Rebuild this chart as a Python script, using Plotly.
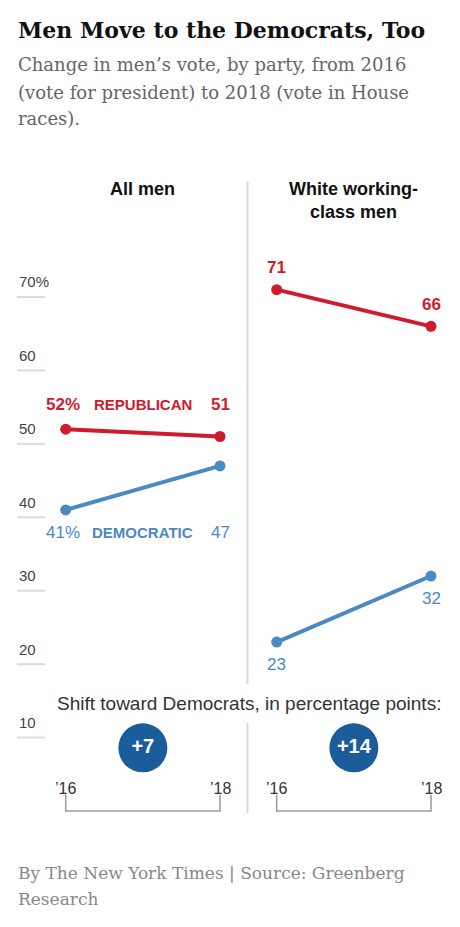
import plotly.graph_objects as go

# ---- data ----
years = [2016, 2018]
year_labels = ["’16", "’18"]
panels = ["All men", "White working-<br>class men"]
rep_all = [52, 51]
dem_all = [41, 47]
rep_wwc = [71, 66]
dem_wwc = [23, 32]
y_ticks = [70, 60, 50, 40, 30, 20, 10]
y_tick_labels = ["70%", "60", "50", "40", "30", "20", "10"]

RED = "#cf1b2e"
BLUE = "#4a89c2"
DARK_BLUE = "#1b5d9b"
OFF = 8  # default page body margin
W, H = 460 - 2 * OFF, 927 - 2 * OFF
SANS = "Liberation Sans, Arial, sans-serif"
SERIF = "DejaVu Serif, Georgia, serif"


def px_x(p):
    return (p - OFF) / W


def px_y(p):
    return 1 - (p - OFF) / H


fig = go.Figure()

axes = [("x", rep_all, dem_all), ("x2", rep_wwc, dem_wwc)]
for xa, rep, dem in axes:
    fig.add_trace(go.Scatter(x=years, y=rep, xaxis=xa, yaxis="y", mode="lines+markers",
                             line=dict(color=RED, width=4), marker=dict(size=11, color=RED),
                             hoverinfo="skip", showlegend=False))
    fig.add_trace(go.Scatter(x=years, y=dem, xaxis=xa, yaxis="y", mode="lines+markers",
                             line=dict(color=BLUE, width=4), marker=dict(size=11, color=BLUE),
                             hoverinfo="skip", showlegend=False))
    shift = (dem[1] - rep[1]) - (dem[0] - rep[0])
    fig.add_trace(go.Scatter(x=[(years[0] + years[1]) / 2], y=[8.6], xaxis=xa, yaxis="y",
                             mode="markers+text", text=[f"+{shift}"],
                             textposition="middle center",
                             textfont=dict(family=SANS, size=20, color="white", weight="bold"),
                             marker=dict(size=49, color=DARK_BLUE),
                             hoverinfo="skip", showlegend=False))
    # bracket
    fig.add_shape(type="path", xref=xa, yref="y",
                  path=f"M {years[0]},2.2 L {years[0]},0 L {years[1]},0 L {years[1]},2.2",
                  line=dict(color="#9a9a9a", width=1.5))
    for yr, lab in zip(years, year_labels):
        fig.add_annotation(x=yr, y=0, xref=xa, yref="y", text=lab, showarrow=False,
                           yshift=23, font=dict(family=SANS, size=16, color="#333"))

# y ticks (short lines + labels above)
for v, lab in zip(y_ticks, y_tick_labels):
    fig.add_shape(type="line", xref="paper", yref="y", x0=px_x(17), x1=px_x(45), y0=v, y1=v,
                  line=dict(color="#dcdcdc", width=2))
    fig.add_annotation(x=px_x(17), y=v, xref="paper", yref="y", text=lab, showarrow=False,
                       xanchor="left", yanchor="middle", yshift=15,
                       font=dict(family=SANS, size=15, color="#444"))

# data labels - left panel
fig.add_annotation(x=years[0], y=rep_all[0], xref="x", yref="y", text=f"{rep_all[0]}%",
                   showarrow=False, yshift=25, xshift=-3,
                   font=dict(family=SANS, size=17, color=RED, weight="bold"))
fig.add_annotation(x=(years[0] + years[1]) / 2, y=rep_all[0], xref="x", yref="y", text="REPUBLICAN",
                   showarrow=False, yshift=25,
                   font=dict(family=SANS, size=15, color=RED, weight="bold"))
fig.add_annotation(x=years[1], y=rep_all[0], xref="x", yref="y", text=f"{rep_all[1]}",
                   showarrow=False, yshift=25,
                   font=dict(family=SANS, size=17, color=RED, weight="bold"))
fig.add_annotation(x=years[0], y=dem_all[0], xref="x", yref="y", text=f"{dem_all[0]}%",
                   showarrow=False, yshift=-23, xshift=-3,
                   font=dict(family=SANS, size=17, color=BLUE))
fig.add_annotation(x=(years[0] + years[1]) / 2, y=dem_all[0], xref="x", yref="y", text="DEMOCRATIC",
                   showarrow=False, yshift=-23,
                   font=dict(family=SANS, size=15, color=BLUE, weight="bold"))
fig.add_annotation(x=years[1], y=dem_all[0], xref="x", yref="y", text=f"{dem_all[1]}",
                   showarrow=False, yshift=-23,
                   font=dict(family=SANS, size=17, color=BLUE))

# data labels - right panel
for yr, v in zip(years, rep_wwc):
    fig.add_annotation(x=yr, y=v, xref="x2", yref="y", text=f"{v}", showarrow=False, yshift=22,
                       font=dict(family=SANS, size=17, color=RED, weight="bold"))
for yr, v in zip(years, dem_wwc):
    fig.add_annotation(x=yr, y=v, xref="x2", yref="y", text=f"{v}", showarrow=False, yshift=-22,
                       font=dict(family=SANS, size=17, color=BLUE))

# panel headers
fig.add_annotation(x=(years[0] + years[1]) / 2, y=px_y(189), xref="x", yref="paper", text=panels[0],
                   showarrow=False, yanchor="middle",
                   font=dict(family=SANS, size=18, color="#111", weight="bold"))
fig.add_annotation(x=(years[0] + years[1]) / 2, y=px_y(201), xref="x2", yref="paper", text=panels[1],
                   showarrow=False, yanchor="middle",
                   font=dict(family=SANS, size=18, color="#111", weight="bold"))

# divider
fig.add_shape(type="line", xref="paper", yref="paper", x0=px_x(247.5), x1=px_x(247.5),
              y0=px_y(182), y1=px_y(684), line=dict(color="#d8d8d8", width=2))
fig.add_shape(type="line", xref="paper", yref="paper", x0=px_x(247.5), x1=px_x(247.5),
              y0=px_y(723), y1=px_y(813), line=dict(color="#d8d8d8", width=2))

fig.add_annotation(x=px_x(249), y=px_y(703), xref="paper", yref="paper",
                   text="Shift toward Democrats, in percentage points:", showarrow=False,
                   xanchor="center", yanchor="middle",
                   font=dict(family=SANS, size=19, color="#333"))

# title / subtitle / footer
fig.add_annotation(x=px_x(16), y=px_y(30), xref="paper", yref="paper", xanchor="left",
                   yanchor="middle",
                   text="Men Move to the Democrats, Too", showarrow=False,
                   font=dict(family=SERIF, size=22, color="#111", weight="bold"))
for i, line in enumerate(["Change in men’s vote, by party, from 2016",
                          "(vote for president) to 2018 (vote in House",
                          "races)."]):
    fig.add_annotation(x=px_x(16), y=px_y(65 + 27 * i), xref="paper", yref="paper", xanchor="left",
                       yanchor="middle", text=line, showarrow=False,
                       font=dict(family=SERIF, size=18, color="#666"))
for i, line in enumerate(["By The New York Times | Source: Greenberg", "Research"]):
    fig.add_annotation(x=px_x(16), y=px_y(873 + 26 * i), xref="paper", yref="paper", xanchor="left",
                       yanchor="middle", text=line, showarrow=False,
                       font=dict(family=SERIF, size=17, color="#888"))

# axis ranges derived from the pixel layout (value 0 at page y=811, 7.343 px per point;
# 2016/2018 at page x=65.7/220 (left) and 276.7/431 (right))
Y0_PX, Y_SCALE = 811, 7.343
X_SCALE = 77.15


def xrange_for(x2016_px):
    return [2016 - (x2016_px - OFF) / X_SCALE, 2016 + (OFF + W - x2016_px) / X_SCALE]


fig.update_layout(
    width=W, height=H, margin=dict(l=0, r=0, t=0, b=0),
    paper_bgcolor="white", plot_bgcolor="white",
    xaxis=dict(domain=[0, 1], range=xrange_for(65.7), visible=False, fixedrange=True),
    xaxis2=dict(domain=[0, 1], range=xrange_for(276.7), visible=False, overlaying="x",
                anchor="y", fixedrange=True),
    yaxis=dict(domain=[0, 1], range=[(Y0_PX - OFF - H) / Y_SCALE, (Y0_PX - OFF) / Y_SCALE],
               visible=False, fixedrange=True),
)

fig.write_html("out.html")
